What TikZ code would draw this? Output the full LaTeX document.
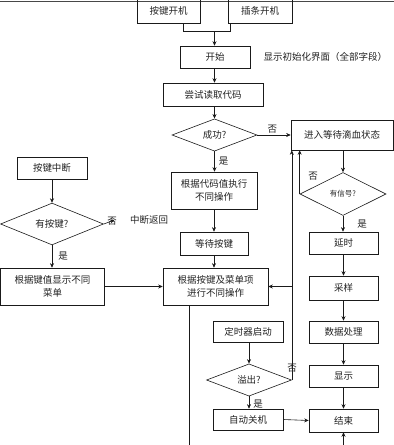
\documentclass[tikz,border=0pt]{standalone}
\usepackage{fontspec}
\usepackage{xcolor}
\usepackage{tikz}
\usetikzlibrary{shapes.geometric, arrows.meta, positioning, calc}
\newfontfamily\cjk{Noto Sans CJK SC}
\definecolor{flowline}{HTML}{1A1A1A}
\definecolor{flowtext}{HTML}{222222}

\tikzset{
  flowbox/.style={draw=flowline, line width=0.6pt, minimum width=#1, minimum height=22pt, inner sep=1pt, align=center},
  flowbox/.default=70pt,
  decide/.style={diamond, draw=flowline, line width=0.6pt, inner sep=0pt, minimum width=85pt, minimum height=30pt},
  arr/.style={draw=flowline, line width=0.6pt, -{Stealth[length=4.5pt, width=4pt]}},
  link/.style={draw=flowline, line width=0.6pt},
  tag/.style={inner sep=1pt}
}

\begin{document}
\begin{tikzpicture}[x=1pt, y=-1pt, every node/.style={font=\cjk\fontsize{9.5}{12.5}\selectfont, text=flowtext}]
  \useasboundingbox (0,0) rectangle (394,445);
  \clip (0,0) rectangle (394,445);
  \draw[link, draw=flowline!80] (0,1) -- (394,1);

  % power on
  \node[flowbox=63pt, minimum height=26pt] (keyOn) at (168.5,10.5) {按键开机};
  \node[flowbox=64pt, minimum height=26pt] (cardOn) at (260,10.5) {插条开机};
  \coordinate (joinTop) at (214.5,31);
  \node[flowbox=70pt] (start) at (215,57) {开始};
  \node[anchor=west] (initNote) at (260,57) {显示初始化界面（全部字段）};
  \node[flowbox=100pt, minimum height=23pt] (readCode) at (213,94.5) {尝试读取代码};
  \node[decide] (codeOk) at (214.5,135) {成功?};
  \node[flowbox=102pt, minimum height=30pt] (waitBlood) at (342,135) {进入等待滴血状态};
  \node[flowbox=86pt, minimum height=37pt] (codeOp) at (214,190.5) {根据代码值执行\\不同操作};
  \node[flowbox=68pt, minimum height=23pt] (waitKey) at (214,243.5) {等待按键};
  \node[flowbox=105pt, minimum height=37pt] (menuOp) at (215.5,286.5) {根据按键及菜单项\\进行不同操作};

  % key interrupt
  \node[flowbox=70pt] (keyInt) at (52,168) {按键中断};
  \node[decide, minimum width=103pt, minimum height=29pt] (hasKey) at (52,224) {有按键?};
  \node (intRet) at (149,220) {中断返回};
  \node[flowbox=104pt, minimum height=37pt] (keyMenu) at (52.5,286.5) {根据键值显示不同\\菜单};

  % measuring
  \node[decide, minimum width=86pt, minimum height=43pt, font=\cjk\fontsize{7.5}{9}\selectfont] (hasSig) at (343,194) {有信号?};
  \node[flowbox=69pt] (delay) at (343.5,243) {延时};
  \node[flowbox=69pt, minimum height=24pt] (sample) at (343.5,288) {采样};
  \node[flowbox=69pt] (dataProc) at (343.5,332) {数据处理};
  \node[flowbox=69pt] (display) at (343.5,376) {显示};
  \node[flowbox=69pt, minimum height=23pt] (finish) at (343.5,420.5) {结束};

  % timer
  \node[flowbox=70pt, minimum height=21pt] (timer) at (248,331.5) {定时器启动};
  \node[decide] (overflow) at (249,380) {溢出?};
  \node[flowbox=70pt, minimum height=21pt] (autoOff) at (248,419.5) {自动关机};
  \coordinate (belowEnd) at (343.5,470);

  \draw[link] ([xshift=14.5pt]keyOn.south) |- (joinTop);
  \draw[link] ([xshift=-30pt]cardOn.south) |- (joinTop);
  \draw[arr] (joinTop) -- (joinTop |- start.north);
  \draw[arr] (start.south -| joinTop) -- (joinTop |- readCode.north);
  \draw[arr] (readCode.south -| codeOk.north) -- (codeOk.north);
  \draw[arr] (codeOk.east) -- node[tag, above, pos=0.45] {否} (waitBlood.west);
  \draw[arr] (codeOk.south) -- node[tag, right, xshift=3pt] {是} (codeOk.south |- codeOp.north);
  \draw[arr] (codeOp.south) -- (waitKey.north);
  \draw[arr] (waitKey.south) -- (waitKey.south |- menuOp.north);

  \draw[arr] (keyInt.south) -- (hasKey.north);
  \draw[arr] (hasKey.east) -- ([xshift=-12pt]intRet.west);
  \node[tag] (keyNo) at (112,221) {否};
  \draw[arr] (hasKey.south) -- node[tag, right, xshift=5pt] {是} (hasKey.south |- keyMenu.north);
  \draw[arr] (keyMenu.east) -- (menuOp.west);

  \draw[arr] (waitBlood.south -| hasSig.north) -- (hasSig.north);
  \draw[arr] (hasSig.west) -- (hasSig.west |- waitBlood.south);
  \node[tag] (sigNo) at (313,176) {否};
  \draw[arr] (hasSig.south) -- node[tag, right, xshift=13pt] {是} (hasSig.south |- delay.north);
  \draw[arr] (delay) -- (sample);
  \draw[arr] (sample) -- (dataProc);
  \draw[arr] (dataProc) -- (display);
  \draw[arr] (display) -- (finish);

  \draw[arr] (timer.south -| overflow.north) -- (overflow.north);
  \draw[arr] (overflow.south) -- node[tag, right, xshift=3pt, pos=0.6] {是} (overflow.south |- autoOff.north);
  \draw[arr] (autoOff.east) -- (finish.west);
  \draw[arr] (overflow.east) -- (overflow.east |- waitBlood.south);
  \node[tag] (ovNo) at (292,368) {否};
  \draw[arr] (overflow.east |- menuOp.east) -- (menuOp.east);
  \draw[arr] ([xshift=-26.5pt]menuOp.south) |- (belowEnd) -- (finish.south);
\end{tikzpicture}
\end{document}
